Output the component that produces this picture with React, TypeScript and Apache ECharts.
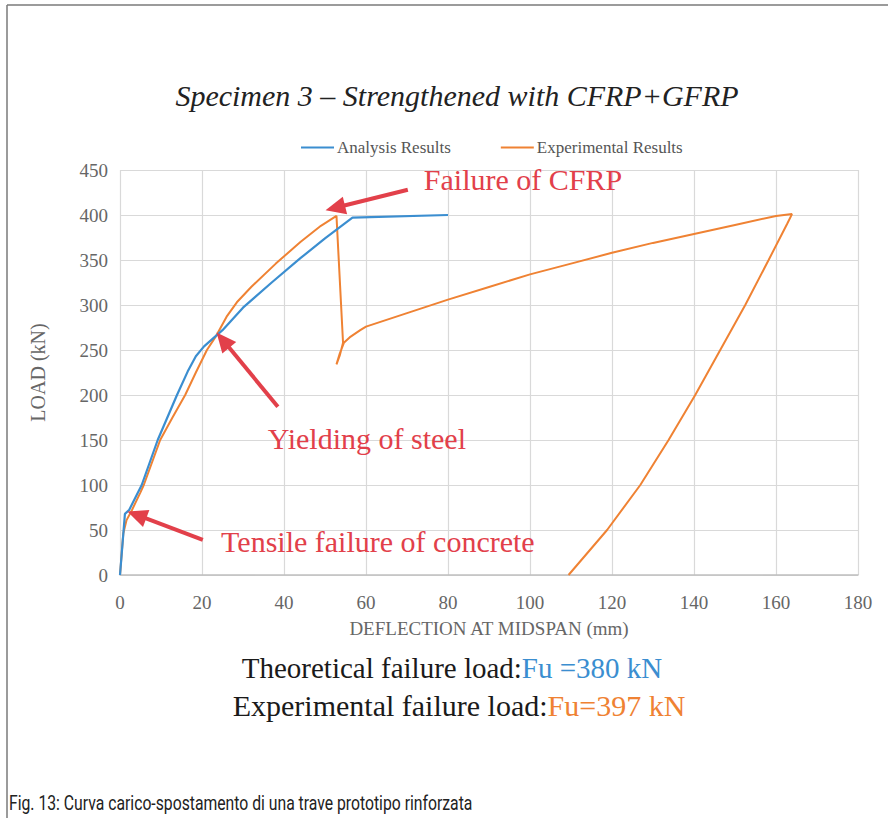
import React, { useEffect, useRef } from "react";
import * as echarts from "echarts";

// Deflection (mm), load (kN)
const analysisResults: number[][] = [
  [0, 0], [1.2, 68], [2.2, 72], [5.3, 100], [9.2, 150], [13.9, 200], [16.5, 226],
  [18.5, 243], [20.5, 254], [22.5, 262], [25, 272], [30, 297], [37, 325], [44, 352],
  [50, 374], [56.7, 397], [80, 400],
];
const experimentalResults: number[][] = [
  [0, 0], [0.8, 46], [1.6, 61], [2.9, 72], [4.9, 91], [5.8, 100], [9.8, 150],
  [12.8, 175], [15.9, 200], [18.5, 225], [21.2, 250], [23.5, 266], [26, 287],
  [28.5, 303], [32, 320], [38, 346], [44, 370], [49, 388], [52.8, 399],
  [54.4, 258], [53.6, 244], [52.8, 234], [53.6, 246], [54.6, 258], [56, 264],
  [58.6, 272], [60, 276], [70, 291], [80, 306], [90, 320], [100, 334], [110, 346],
  [120, 358], [130, 369], [140, 379], [150, 389], [160, 399], [163.9, 401],
  [162.7, 390], [158.2, 350], [152.5, 300], [146.4, 250], [140.3, 200],
  [133.8, 150], [126.9, 100], [118.8, 50], [109.4, 0],
];
const seriesNames = ["Analysis Results", "Experimental Results"];
const annotationTexts = ["Failure of CFRP", "Yielding of steel", "Tensile failure of concrete"];
// annotation anchors in data coordinates (deflection, load)
const annotationLabelAt = [[98.3, 439], [60.2, 152], [62.9, 36.7]];
const annotationArrowFrom = [[70.2, 428], [38.5, 187], [20.2, 39]];
const annotationArrowTo = [[52.5, 408], [25.1, 261], [4.1, 66.7]];

const BLUE = "#3b8ed0";
const ORANGE = "#ef8233";
const RED = "#e2404a";
const SERIF = "Liberation Serif, Times New Roman, serif";

export default function App() {
  const ref = useRef<HTMLDivElement>(null);
  useEffect(() => {
    if (!ref.current) return;
    const chart = echarts.init(ref.current, null, { renderer: "svg" });
    const option: any = {
      animation: false,
      backgroundColor: "#ffffff",
      textStyle: { fontFamily: SERIF },
      title: {
        text: "Specimen 3 – Strengthened with CFRP+GFRP",
        left: 452,
        top: 75,
        textAlign: "center",
        textStyle: {
          fontFamily: SERIF,
          fontStyle: "italic",
          fontWeight: "normal",
          fontSize: 30,
          color: "#222222",
        },
      },
      legend: {
        data: seriesNames,
        top: 134,
        left: 296,
        itemWidth: 33,
        itemHeight: 2,
        itemGap: 50,
        icon: "rect",
        textStyle: { fontFamily: SERIF, fontSize: 17, color: "#555555", padding: [0, 0, 0, -2] },
      },
      grid: { left: 120, right: 30, top: 170, bottom: 243 },
      xAxis: {
        type: "value",
        min: 0,
        max: 180,
        interval: 20,
        name: "DEFLECTION AT MIDSPAN (mm)",
        nameLocation: "middle",
        nameGap: 44,
        nameTextStyle: { fontFamily: SERIF, fontSize: 19, color: "#666666" },
        axisLine: { show: true, lineStyle: { color: "#bfbfbf", width: 1.5 } },
        axisTick: { show: false },
        axisLabel: { fontFamily: SERIF, fontSize: 19, color: "#666666", margin: 18 },
        splitLine: { show: true, lineStyle: { color: "#d9d9d9", width: 1.2 } },
      },
      yAxis: {
        type: "value",
        min: 0,
        max: 450,
        interval: 50,
        name: "LOAD (kN)",
        nameLocation: "middle",
        nameGap: 72,
        nameTextStyle: { fontFamily: SERIF, fontSize: 20, color: "#666666" },
        axisLine: { show: false },
        axisTick: { show: false },
        axisLabel: { fontFamily: SERIF, fontSize: 19, color: "#666666", margin: 12 },
        splitLine: { show: true, lineStyle: { color: "#d9d9d9", width: 1.2 } },
      },
      series: [
        {
          name: seriesNames[0],
          type: "line",
          data: analysisResults,
          showSymbol: false,
          color: BLUE,
          lineStyle: { color: BLUE, width: 2.2 },
          z: 3,
        },
        {
          name: seriesNames[1],
          type: "line",
          data: experimentalResults,
          showSymbol: false,
          color: ORANGE,
          lineStyle: { color: ORANGE, width: 2 },
          z: 2,
          markLine: {
            silent: true,
            symbol: ["none", "triangle"],
            symbolSize: [18, 20],
            label: { show: false },
            lineStyle: { color: RED, width: 4, type: "solid" },
            itemStyle: { color: RED },
            data: annotationArrowFrom.map((f, i) => [
              { coord: f },
              { coord: annotationArrowTo[i] },
            ]),
          },
          markPoint: {
            silent: true,
            symbol: "circle",
            symbolSize: 0,
            data: annotationTexts.map((t, i) => ({
              coord: annotationLabelAt[i],
              value: t,
              label: {
                show: true,
                position: "inside",
                formatter: t,
                fontFamily: SERIF,
                fontSize: 30,
                color: RED,
              },
            })),
          },
        },
      ],
      graphic: [
        {
          type: "line",
          shape: { x1: 7, y1: 5, x2: 888, y2: 5 },
          style: { stroke: "#7a7a7a", lineWidth: 1.5 },
        },
        {
          type: "line",
          shape: { x1: 7, y1: 5, x2: 7, y2: 818 },
          style: { stroke: "#7a7a7a", lineWidth: 1.5 },
        },
        {
          type: "text",
          x: 452,
          y: 668,
          style: {
            text: "{a|Theoretical failure load:}{b|Fu =380 kN}",
            fontFamily: SERIF,
            fontSize: 29,
            align: "center",
            verticalAlign: "middle",
            rich: {
              a: { fontFamily: SERIF, fontSize: 29, fill: "#1a1a1a" },
              b: { fontFamily: SERIF, fontSize: 29, fill: BLUE },
            },
          },
        },
        {
          type: "text",
          x: 459,
          y: 705,
          style: {
            text: "{a|Experimental failure load:}{b|Fu=397 kN}",
            fontFamily: SERIF,
            fontSize: 30,
            align: "center",
            verticalAlign: "middle",
            rich: {
              a: { fontFamily: SERIF, fontSize: 30, fill: "#1a1a1a" },
              b: { fontFamily: SERIF, fontSize: 30, fill: ORANGE },
            },
          },
        },
        {
          type: "text",
          x: 9,
          y: 803,
          scaleX: 0.75,
          style: {
            text: "Fig. 13: Curva carico-spostamento di una trave prototipo rinforzata",
            fontFamily: "Roboto",
            fontSize: 21,
            fill: "#222222",
            verticalAlign: "middle",
          },
        },
      ],
    };
    chart.setOption(option);
    return () => chart.dispose();
  }, []);
  return (
    <div
      ref={ref}
      style={{ position: "absolute", left: 0, top: 0, width: 888, height: 818 }}
    />
  );
}
